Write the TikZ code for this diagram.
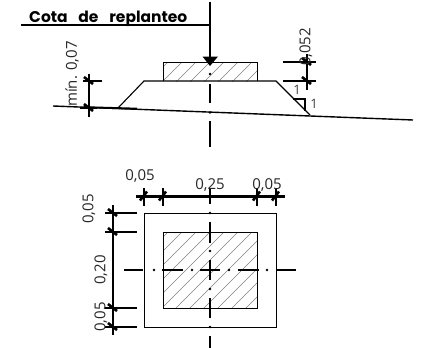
\documentclass[tikz,border=0pt]{standalone}
\usepackage{fontspec}
\setmainfont{Open Sans}
\newfontfamily\cadfont{Poppins}
\usetikzlibrary{calc}
\tikzset{
  thin line/.style={line width=0.9pt,black},
  ground/.style={line width=1.4pt,black},
  dimline/.style={line width=2.2pt,black},
  axis/.style={line width=2.5pt,black},
  hatchline/.style={line width=0.7pt,black!50},
  dimtext/.style={font=\fontsize{15}{15}\selectfont,text=black!85,inner sep=0pt},
  slope/.style={font=\fontsize{13}{13}\selectfont,text=black!75,inner sep=0pt},
}
\newcommand{\tickmark}[2]{\draw[line width=2.6pt] (#1-4,#2+4) -- (#1+3,#2-5);}
\newcommand{\tickmarkv}[2]{\draw[line width=2.6pt] (#1-5,#2-4) -- (#1+4,#2+3);}
\begin{document}
\begin{tikzpicture}[x=1pt,y=-1pt]
\useasboundingbox (0,0) rectangle (429,348);
% hatching
\begin{scope}
\clip (163,62) rectangle (257,81);
\foreach \i in {0,14,...,140} \draw[hatchline] (140+\i,90) -- (175+\i,55);
\end{scope}
\begin{scope}
\clip (163,232) rectangle (257,308);
\foreach \i in {0,14,...,210} \draw[hatchline] (80+\i,320) -- (180+\i,220);
\end{scope}
% title
\node[anchor=base west,inner sep=0pt,font=\cadfont\fontsize{15.5}{16}\selectfont\bfseries] (title) at (29,22) {Cota\hspace{7.5pt} de\hspace{7.5pt} replanteo};
\draw[line width=2pt] (21,25) -- (210,25);
% section
\draw[thin line] (163,81) -- (163,62) -- (257,62) -- (257,81);
\draw[line width=1.1pt] (118,108) -- (144,81) -- (276,81) -- (310,115);
\draw[ground] (53,106) -- (413,120);
\draw[line width=2pt] (84,107.2) -- (137,108.7);
% axis with arrow
\draw[line width=2.5pt] (210,2) -- (210,58);
\fill (202.5,56.5) -- (218,56.5) -- (210,66) -- cycle;
\fill (210,74) circle (1.4);
\draw[axis] (210,84) -- (210,103);
\fill (210,112.5) circle (1.4);
\draw[axis] (210,121) -- (210,147);
% left dim
\draw[dimline] (89,74) -- (89,117);
\draw[dimline] (83,81) -- (102,81);
\draw[dimline] (80,108) -- (97,108);
\tickmarkv{89}{81}
\tickmarkv{89}{108}
\node[dimtext,rotate=90] (minlabel) at (72,74) {mín. 0,07};
% right dim
\draw[dimline] (307,54) -- (307,90);
\draw[dimline] (283,62) -- (316,62);
\draw[dimline] (283,81) -- (316,81);
\tickmarkv{307}{62}
\tickmarkv{307}{81}
\node[dimtext,rotate=90] (h052) at (306,47) {0,052};
% slope triangle
\draw[line width=1.6pt] (293,99) -- (305,99) -- (305,111);
\node[slope] (s1) at (297,90) {1};
\node[slope] (s2) at (314,104) {1};
% plan
\draw[thin line] (144,213) rectangle (276,327);
\draw[thin line] (163,232) rectangle (257,308);
% plan vertical axis
\draw[axis] (210,222) -- (210,243);
\draw[axis] (210,260) -- (210,280);
\draw[axis] (210,298) -- (210,318);
\draw[axis] (210,336) -- (210,348);
\foreach \y in {213,251,289,327} \fill (210,\y) circle (1.4);
% plan horizontal axis
\draw[line width=2pt] (124,270) -- (143,270);
\draw[line width=2pt] (162,270) -- (183,270);
\draw[line width=2pt] (200,270) -- (220,270);
\draw[line width=2pt] (238,270) -- (259,270);
\draw[line width=2pt] (276,270) -- (296,270);
\foreach \x in {154,192,229,267} \fill (\x,270) circle (1.4);
% top dim
\draw[dimline] (136,196.5) -- (285,196.5);
\foreach \x in {144,163,257,276} {
  \draw[dimline] (\x,188) -- (\x,206);
  \tickmark{\x}{196.5}
}
\draw[dimline] (210,188) -- (210,204);
\node[dimtext] (a1) at (140,176) {0,05};
\node[dimtext] (a2) at (210,185) {0,25};
\node[dimtext] (a3) at (267,185) {0,05};
% left plan dim
\draw[dimline] (113,205) -- (113,335);
\foreach \y in {213,232,308,327} {
  \draw[dimline] (105,\y) -- (137,\y);
  \tickmarkv{113}{\y}
}
\node[dimtext,rotate=90] (b1) at (89,209) {0,05};
\node[dimtext,rotate=90] (b2) at (101,270) {0,20};
\node[dimtext,rotate=90] (b3) at (101,317) {0,05};
\end{tikzpicture}
\end{document}
